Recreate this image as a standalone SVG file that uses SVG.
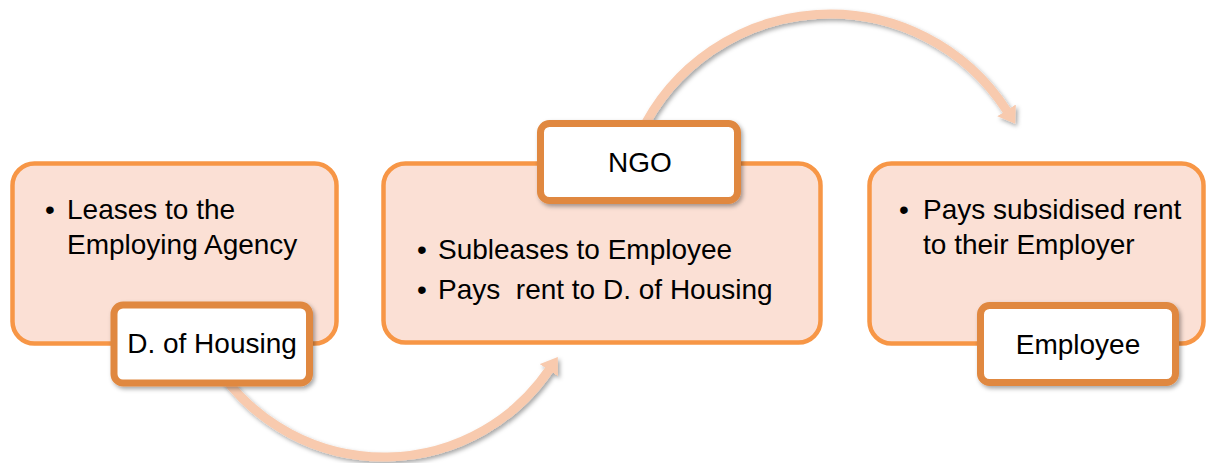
<svg xmlns="http://www.w3.org/2000/svg" width="1207" height="463" viewBox="0 0 1207 463">
  <style>
    .card { fill: #FBE0D5; stroke: #F79646; stroke-width: 4.5; }
    .tag { fill: #FFFFFF; stroke: #E0883F; stroke-width: 7; filter: url(#shadow); }
    .txt { font-family: "Liberation Sans", Arial, sans-serif; font-size: 28px; fill: #000000; }
    .mid { text-anchor: middle; }
    .flow { fill: none; stroke: #F8CAAE; stroke-width: 9; marker-end: url(#head); filter: url(#shadow); }
  </style>
  <defs>
    <filter id="shadow" x="-20%" y="-20%" width="140%" height="150%">
      <feDropShadow dx="2" dy="2.5" stdDeviation="2" flood-color="#000000" flood-opacity="0.35"/>
    </filter>
    <marker id="head" markerUnits="userSpaceOnUse" viewBox="0 0 16 22" markerWidth="16" markerHeight="22" refX="1" refY="11" orient="auto">
      <path d="M0 0 L16 11 L0 22 Z" fill="#F8CAAE"/>
    </marker>
  </defs>

  <!-- curved flow arrows -->
  <g id="connectors">
    <path class="flow" d="M 222.5 375 A 200 200 0 0 0 549.4 369.4"/>
    <path class="flow" d="M 639.8 135 A 210 210 0 0 1 1007.1 111.2"/>
  </g>

  <!-- D. of Housing -->
  <g id="node-housing">
    <rect class="card" x="12.5" y="163.5" width="324" height="180" rx="22"/>
    <text class="txt" x="45" y="219">•</text>
    <text class="txt" x="67" y="219">Leases to the</text>
    <text class="txt" x="67" y="254">Employing Agency</text>
    <rect class="tag" x="114" y="305" width="195.5" height="78" rx="9"/>
    <text class="txt mid" x="212" y="353">D. of Housing</text>
  </g>

  <!-- NGO -->
  <g id="node-ngo">
    <rect class="card" x="383.5" y="163.5" width="437" height="179" rx="22"/>
    <text class="txt" x="417" y="259">•</text>
    <text class="txt" x="438" y="259">Subleases to Employee</text>
    <text class="txt" x="417" y="299">•</text>
    <text class="txt" x="438" y="299" xml:space="preserve" style="white-space:pre">Pays  rent to D. of Housing</text>
    <rect class="tag" x="540.5" y="123.5" width="197" height="77" rx="9"/>
    <text class="txt mid" x="640" y="172">NGO</text>
  </g>

  <!-- Employee -->
  <g id="node-employee">
    <rect class="card" x="869.5" y="163.5" width="334" height="180" rx="22"/>
    <text class="txt" x="899" y="219">•</text>
    <text class="txt" x="923" y="219">Pays subsidised rent</text>
    <text class="txt" x="923" y="254">to their Employer</text>
    <rect class="tag" x="980.5" y="305.5" width="195" height="77" rx="9"/>
    <text class="txt mid" x="1078" y="354">Employee</text>
  </g>
</svg>
